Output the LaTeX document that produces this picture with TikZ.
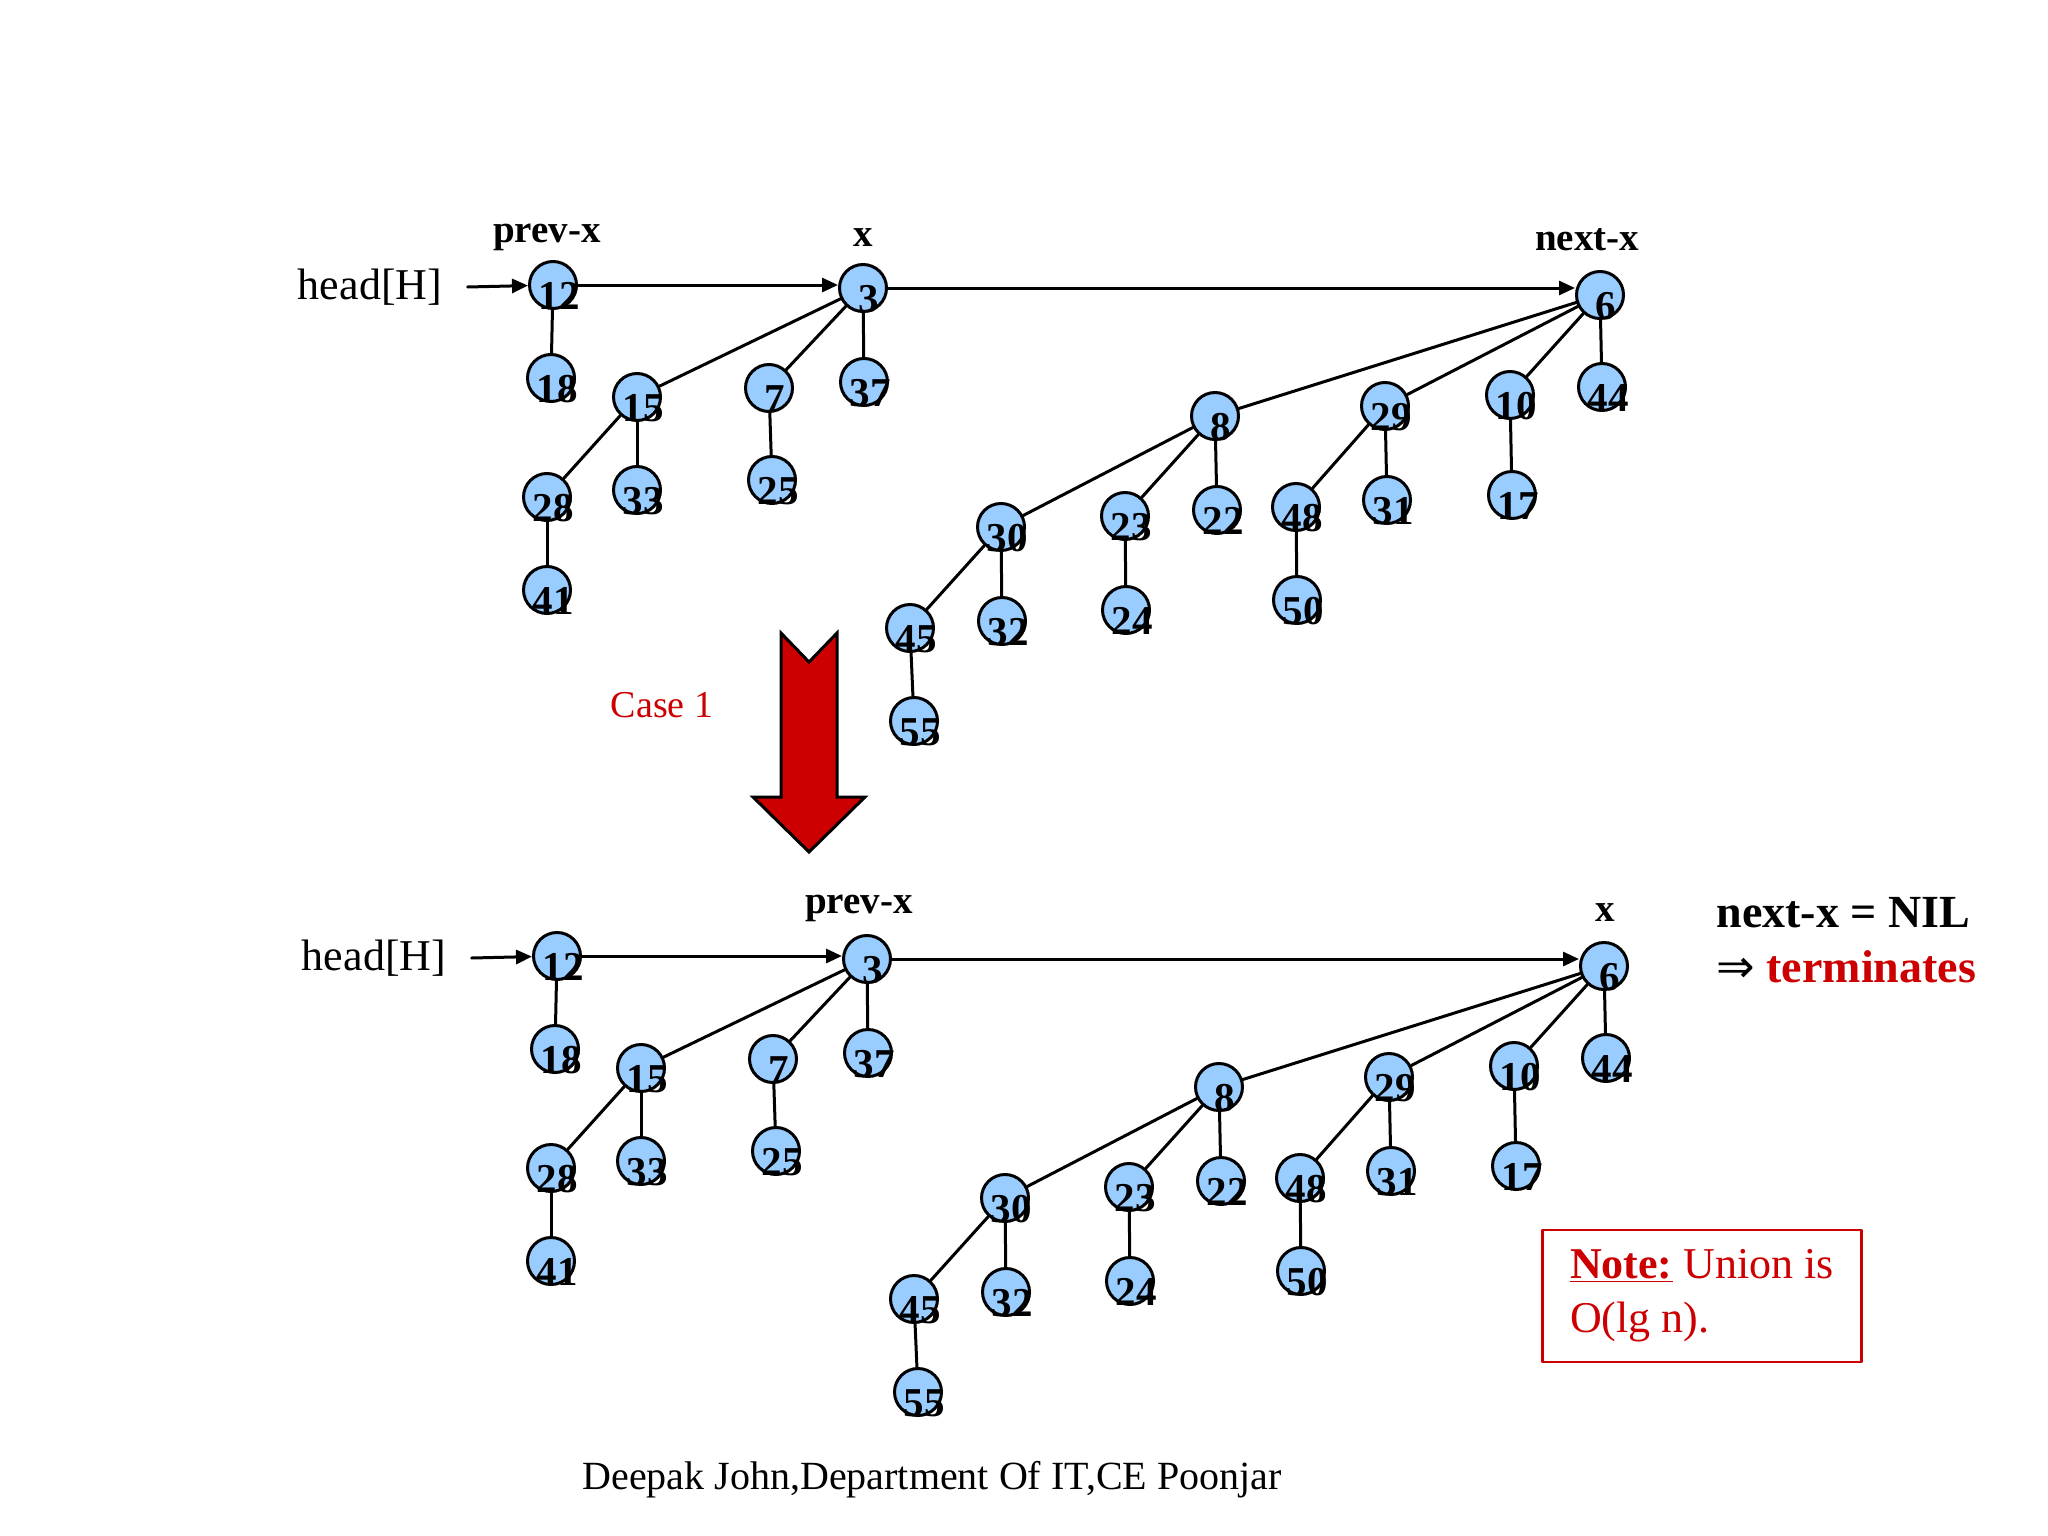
\documentclass[tikz,border=0pt]{standalone}
\usepackage{fontspec}
\setmainfont{Liberation Serif}
\newfontfamily\arrowfont{DejaVu Sans}
\usetikzlibrary{arrows.meta}
\definecolor{keyblue}{HTML}{99CCFF}
\definecolor{slidered}{HTML}{CC0000}
% 数字略偏右下，不撑大圆
\newcommand\keynum[1]{\makebox[0pt]{\hspace{12pt}\raisebox{-24pt}[0pt][0pt]{#1}}}

\begin{document}
\begin{tikzpicture}[x=1pt, y=-1pt, line width=3pt, line cap=round, line join=round,
  key/.style={circle, draw, fill=keyblue, minimum size=47pt, inner sep=0pt,
    font=\fontsize{41}{41}\selectfont\bfseries},
  link/.style={-{Triangle[length=16pt,width=14pt]}},
  tag/.style={inner sep=0pt, font=\fontsize{39}{46}\selectfont\bfseries},
  plain/.style={inner sep=0pt, font=\fontsize{44}{53}\selectfont}]

  \fill[white] (0,0) rectangle (2048,1536);

  %% ════ 两棵二项堆（上：合并前，下：合并后）════
  \foreach \dx/\dy/\tp in {0/0/a, 4/671/b}{
    \begin{scope}[shift={(\dx,\dy)}]
      \node[plain] (\tp-head) at (370,287) {head[H]};
      \foreach \k/\px/\py in {12/553/285, 18/551/378, 3/863/288, 15/637/397, 7/769/388,
          37/864/382, 28/547/497, 33/637/490, 25/772/480, 41/547/590,
          6/1600/295, 8/1215/416, 29/1385/406, 10/1510/395, 44/1602/387,
          30/1001/527, 23/1125/516, 22/1217/510, 48/1296/507, 31/1387/500,
          17/1512/495, 45/910/628, 32/1002/621, 24/1126/610, 50/1297/600, 55/914/721}
        \node[key] (\tp-\k) at (\px,\py) {\keynum{\k}};

      % 根表（水平指针）
      \draw[link] ([xshift=24pt]\tp-head.east) -- (\tp-12);
      \draw[link] (\tp-12.east) -- (\tp-12.east -| \tp-3.west);
      \draw[link] (\tp-3.east) -- (\tp-3.east -| \tp-6.west);

      % 父子边
      \foreach \p/\c in {12/18, 3/15, 3/7, 3/37, 15/28, 15/33, 28/41, 7/25,
          6/8, 6/29, 6/10, 6/44, 8/30, 8/23, 8/22, 30/45, 30/32, 45/55,
          23/24, 29/48, 29/31, 48/50, 10/17}
        \draw (\tp-\p) -- (\tp-\c);
    \end{scope}
  }

  %% ════ 指针标签 ════
  \node[tag] (prevtop) at (547,237) {prev-x};
  \node[tag] (xtop) at (863,238) {x};
  \node[tag] (nexttop) at (1587,240) {next-x};
  \node[tag] (prevbot) at (859,908) {prev-x};
  \node[tag] (xbot) at (1605,913) {x};

  %% ════ Case 1 大箭头 ════
  \node[plain, text=slidered, font=\fontsize{38}{45}\selectfont] (case) at (662,705) {Case 1};
  \draw[fill=slidered, line join=miter] (781,633) -- (809,662) -- (837,633) -- (837,797)
    -- (865,797) -- (809,852) -- (753,797) -- (781,797) -- cycle;

  %% ════ 右侧说明 ════
  \node[tag, anchor=west, font=\fontsize{46}{55}\selectfont\bfseries] (nil) at (1715,913) {next-x = NIL};
  \node[tag, anchor=west, font=\fontsize{46}{55}\selectfont\bfseries] (term) at (1715,967)
    {{\arrowfont\mdseries ⇒} \textcolor{slidered}{terminates}};

  \node[draw=slidered, line width=2.7pt, minimum width=319pt, minimum height=132pt,
    inner sep=0pt, align=left, text=slidered, font=\fontsize{44}{54}\selectfont] (note) at (1702,1296)
    {\underline{\textbf{Note:}} Union is\\O(lg n).};

  %% ════ 页脚 ════
  \node[plain, font=\fontsize{40}{48}\selectfont] (foot) at (932,1480) {Deepak John,Department Of IT,CE Poonjar};

  \pgfresetboundingbox
  \path[use as bounding box] (0,0) rectangle (2048,1536);
\end{tikzpicture}
\end{document}
